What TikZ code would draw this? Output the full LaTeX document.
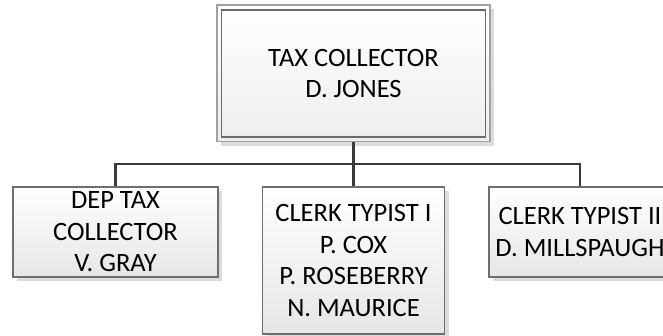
\documentclass[tikz,border=0pt]{standalone}
\usepackage{fontspec}
\setmainfont{Carlito}
\usetikzlibrary{shadows}
\definecolor{linkgray}{HTML}{3A3A3A}
\definecolor{boxedge}{HTML}{6E6E6E}
\definecolor{outeredge}{HTML}{A0A0A0}
\definecolor{inneredge}{HTML}{6A6A6A}
\definecolor{boxfill}{HTML}{E6E6E6}
\definecolor{shadowgray}{HTML}{DCDCDC}
\begin{document}
\begin{tikzpicture}[x=1pt,y=-1pt,
  box/.style={draw=boxedge, line width=1.2pt, top color=white, bottom color=boxfill,
    inner sep=0pt, align=center, font=\fontsize{26.5}{31.5}\selectfont,
    drop shadow={shadow xshift=4pt, shadow yshift=-4pt, fill=shadowgray, opacity=1}},
  headbox/.style={box, draw=outeredge, line width=1.5pt, top color=white, bottom color=boxfill!70},
  inneredge/.style={draw=inneredge, line width=1.2pt},
  link/.style={draw=linkgray, line width=2.2pt}]
\useasboundingbox (0,0) rectangle (663,335);
\clip (0,0) rectangle (663,335);

% head of the office
\node[headbox, minimum width=273pt, minimum height=136.5pt] (top) at (353.5,73.4)
  {TAX COLLECTOR\\D. JONES};
\draw[inneredge] ([xshift=5pt,yshift=-5.5pt]top.north west)
  rectangle ([xshift=-5pt,yshift=5.5pt]top.south east);

% staff
\node[box, minimum width=205pt, minimum height=90pt] (dep) at (115.5,232)
  {DEP TAX\\COLLECTOR\\V. GRAY};
\node[box, minimum width=182pt, minimum height=147pt] (clerk1) at (353.5,260.5)
  {CLERK TYPIST I\\P. COX\\P. ROSEBERRY\\N. MAURICE};
\node[box, minimum width=182pt, minimum height=90pt] (clerk2) at (580,232)
  {CLERK TYPIST II\\D. MILLSPAUGH};

% reporting lines
\coordinate (bus) at (353.5,164);
\draw[link] (top.south) -- (bus);
\draw[link] (dep.north) |- (bus) -| (clerk2.north);
\draw[link] (bus) -- (clerk1.north);
\end{tikzpicture}
\end{document}
